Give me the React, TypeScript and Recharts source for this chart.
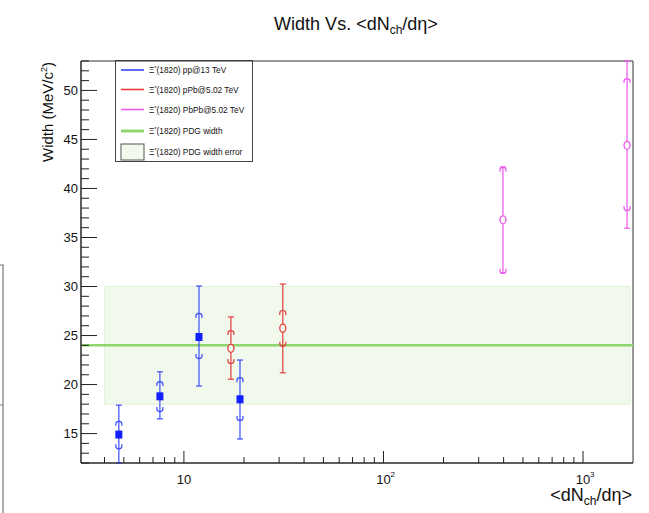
import { ScatterChart, Scatter, XAxis, YAxis, ErrorBar, ReferenceArea, ReferenceLine } from 'recharts';

// pp @ 13 TeV
const ppX = [4.72, 7.58, 11.9, 19.1];
const ppY = [14.9, 18.8, 24.85, 18.5];
const ppStatLo = [12.0, 16.5, 19.85, 14.45];
const ppStatHi = [17.9, 21.3, 30.05, 22.5];
const ppSystLo = [13.6, 17.4, 22.8, 16.5];
const ppSystHi = [16.1, 20.15, 27.1, 20.55];

// pPb @ 5.02 TeV
const pPbX = [17.2, 31.3];
const pPbY = [23.7, 25.75];
const pPbStatLo = [20.55, 21.2];
const pPbStatHi = [26.9, 30.25];
const pPbSystLo = [22.3, 24.05];
const pPbSystHi = [25.35, 27.4];

// PbPb @ 5.02 TeV
const pbpbX = [397, 1662];
const pbpbY = [36.8, 44.4];
const pbpbStatLo = [31.4, 35.95];
const pbpbStatHi = [42.2, 53.0];
const pbpbSystLo = [31.5, 37.9];
const pbpbSystHi = [42.0, 51.05];

// PDG width and its error band
const pdgWidth = 24;
const pdgLo = 18;
const pdgHi = 30;
const bandXFrom = 4;
const bandXTo = 1720;

const xDomain = [3.05, 1780];
const yDomain = [12, 53];
const xTicks = [4, 5, 6, 7, 8, 9, 10, 20, 30, 40, 50, 60, 70, 80, 90, 100, 200, 300, 400, 500, 600, 700, 800, 900, 1000];
const xMajor = [10, 100, 1000];
const yTicks = [12, 13, 14, 15, 16, 17, 18, 19, 20, 21, 22, 23, 24, 25, 26, 27, 28, 29, 30, 31, 32, 33, 34, 35, 36, 37, 38, 39, 40, 41, 42, 43, 44, 45, 46, 47, 48, 49, 50, 51, 52, 53];
const yMajor = [15, 20, 25, 30, 35, 40, 45, 50];

const legendItems = [
  { label: 'pp@13 TeV', color: '#3344ff', kind: 'line' },
  { label: 'pPb@5.02 TeV', color: '#e83a3a', kind: 'line' },
  { label: 'PbPb@5.02 TeV', color: '#f05cf0', kind: 'line' },
  { label: 'PDG width', color: '#8fd46c', kind: 'thick' },
  { label: 'PDG width error', color: '#f1f9ec', kind: 'box' },
];
const legendRowY = [70, 89.5, 109.5, 131, 152];

const FONT = '"Liberation Sans", Arial, Helvetica, sans-serif';

function points(xs: number[], ys: number[], lo: number[], hi: number[]) {
  return xs.map((x, i) => ({ x, y: ys[i], err: [ys[i] - lo[i], hi[i] - ys[i]] }));
}

function caps(xs: number[], lo: number[], hi: number[]) {
  return [
    ...xs.map((x, i) => ({ x, y: hi[i], side: 'hi' })),
    ...xs.map((x, i) => ({ x, y: lo[i], side: 'lo' })),
  ];
}

const ppData = points(ppX, ppY, ppStatLo, ppStatHi);
const pPbData = points(pPbX, pPbY, pPbStatLo, pPbStatHi);
const pbpbData = points(pbpbX, pbpbY, pbpbStatLo, pbpbStatHi);
const ppCaps = caps(ppX, ppSystLo, ppSystHi);
const pPbCaps = caps(pPbX, pPbSystLo, pPbSystHi);
const pbpbCaps = caps(pbpbX, pbpbSystLo, pbpbSystHi);

const capShape = (color: string) => (p: any) => {
  const { cx, cy, payload } = p;
  const s = payload.side === 'hi' ? 1 : -1;
  const d = `M ${cx - 3} ${cy + 3 * s} L ${cx - 3} ${cy + 1 * s} Q ${cx - 3} ${cy - 1.5 * s} ${cx} ${cy - 1.5 * s} Q ${cx + 3} ${cy - 1.5 * s} ${cx + 3} ${cy + 1 * s} L ${cx + 3} ${cy + 3 * s}`;
  return <path d={d} fill="none" stroke={color} strokeWidth={1.2} />;
};

const squareShape = (p: any) => <rect x={p.cx - 3.5} y={p.cy - 4} width={7} height={8} fill="#1020ff" />;
const circleShape = (color: string, fill: string) => (p: any) => (
  <ellipse cx={p.cx} cy={p.cy} rx={3} ry={4} fill={fill} stroke={color} strokeWidth={1.3} />
);

const renderYTick = (p: any) => {
  const v = p.payload.value;
  const major = yMajor.includes(v);
  const ax = p.x + 3;
  return (
    <g>
      <line x1={ax} y1={p.y} x2={ax + (major ? 16 : 8)} y2={p.y} stroke="#222" strokeWidth={1} />
      {major && (
        <text x={p.x} y={p.y} textAnchor="end" dominantBaseline="central" fontSize={13} fontFamily={FONT} fill="#111">
          {v}
        </text>
      )}
    </g>
  );
};

const renderXTick = (p: any) => {
  const v = p.payload.value;
  const major = xMajor.includes(v);
  const ay = p.y - 4;
  const exp = Math.round(Math.log10(v));
  return (
    <g>
      <line x1={p.x} y1={ay} x2={p.x} y2={ay - (major ? 12 : 6)} stroke="#222" strokeWidth={1} />
      {major && (
        <text x={p.x} y={p.y + 17} textAnchor="middle" fontSize={13} fontFamily={FONT} fill="#111">
          10
        </text>
      )}
      {major && exp > 1 && (
        <text x={p.x + 7} y={p.y + 10} fontSize={8} fontFamily={FONT} fill="#111">
          {exp}
        </text>
      )}
    </g>
  );
};

export default function App() {
  return (
    <div style={{ position: 'absolute', left: 0, top: 0, width: 649, height: 513, background: '#fff' }}>
      <ScatterChart width={649} height={513} margin={{ top: 61, right: 16, bottom: 20, left: 41 }}>
        <XAxis
          type="number"
          dataKey="x"
          scale="log"
          domain={xDomain}
          allowDataOverflow
          ticks={xTicks}
          interval={0}
          tickSize={0}
          tickMargin={4}
          tickLine={false}
          tick={renderXTick}
          height={30}
          axisLine={{ stroke: '#222' }}
        />
        <YAxis
          type="number"
          dataKey="y"
          domain={yDomain}
          allowDataOverflow
          ticks={yTicks}
          interval={0}
          tickSize={0}
          tickMargin={3}
          tickLine={false}
          tick={renderYTick}
          width={40}
          axisLine={{ stroke: '#222' }}
        />
        <ReferenceArea x1={bandXFrom} x2={bandXTo} y1={pdgLo} y2={pdgHi} fill="#f1f9ec" fillOpacity={1} stroke="#e2f2d8" />
        <ReferenceLine y={pdgWidth} stroke="#8fd46c" strokeWidth={2.5} />

        <Scatter data={ppCaps} shape={capShape('#3b4cff')} isAnimationActive={false} />
        <Scatter data={pPbCaps} shape={capShape('#e23c3c')} isAnimationActive={false} />
        <Scatter data={pbpbCaps} shape={capShape('#ee55ee')} isAnimationActive={false} />

        <Scatter data={ppData} shape={squareShape} isAnimationActive={false}>
          <ErrorBar dataKey="err" direction="y" width={3} stroke="#3b4cff" strokeWidth={1.2} isAnimationActive={false} />
        </Scatter>
        <Scatter data={pPbData} shape={circleShape('#e23c3c', '#f1f9ec')} isAnimationActive={false}>
          <ErrorBar dataKey="err" direction="y" width={3} stroke="#e23c3c" strokeWidth={1.2} isAnimationActive={false} />
        </Scatter>
        <Scatter data={pbpbData} shape={circleShape('#ee55ee', '#ffffff')} isAnimationActive={false}>
          <ErrorBar dataKey="err" direction="y" width={3} stroke="#ee55ee" strokeWidth={1.2} isAnimationActive={false} />
        </Scatter>

        <ReferenceArea x1={xDomain[0]} x2={xDomain[1]} y1={yDomain[0]} y2={yDomain[1]} fill="none" stroke="#333" strokeWidth={1} />

        {/* title */}
        <text x={356} y={30} textAnchor="middle" fontSize={18} fontFamily={FONT} fill="#111">
          Width Vs. &lt;dN<tspan fontSize={12} dy={4}>ch</tspan><tspan dy={-4}>/dη&gt;</tspan>
        </text>
        {/* axis titles */}
        <text x={632} y={501} textAnchor="end" fontSize={18} fontFamily={FONT} fill="#111">
          &lt;dN<tspan fontSize={12} dy={4}>ch</tspan><tspan dy={-4}>/dη&gt;</tspan>
        </text>
        <text transform="translate(53,62) rotate(-90)" textAnchor="end" fontSize={15} fontFamily={FONT} fill="#111">
          Width (MeV/c<tspan fontSize={9} dy={-6}>2</tspan><tspan dy={6}>)</tspan>
        </text>

        {/* legend */}
        <rect x={115.5} y={60.5} width={137} height={101} fill="#fff" stroke="#444" strokeWidth={1} />
        {legendItems.map((it, i) => (
          <g key={it.label}>
            {it.kind === 'box' ? (
              <rect x={121} y={legendRowY[i] - 8} width={23} height={16} fill={it.color} stroke="#555" strokeWidth={1} />
            ) : (
              <line x1={121} x2={144} y1={legendRowY[i]} y2={legendRowY[i]} stroke={it.color} strokeWidth={it.kind === 'thick' ? 3 : 1.6} />
            )}
            <text x={149} y={legendRowY[i] + 3} fontSize={8.3} fontFamily={FONT} fill="#111">
              Ξ<tspan fontSize={5.5} dy={-3}>*</tspan><tspan dy={3}>(1820) {it.label}</tspan>
            </text>
          </g>
        ))}

        {/* stray frame fragment at the left edge */}
        <line x1={0} x2={4} y1={265} y2={265} stroke="#777" strokeWidth={1} />
        <line x1={3} x2={3} y1={265} y2={513} stroke="#777" strokeWidth={1.2} />
        <line x1={0} x2={3} y1={405} y2={405} stroke="#777" strokeWidth={1} />
      </ScatterChart>
    </div>
  );
}
